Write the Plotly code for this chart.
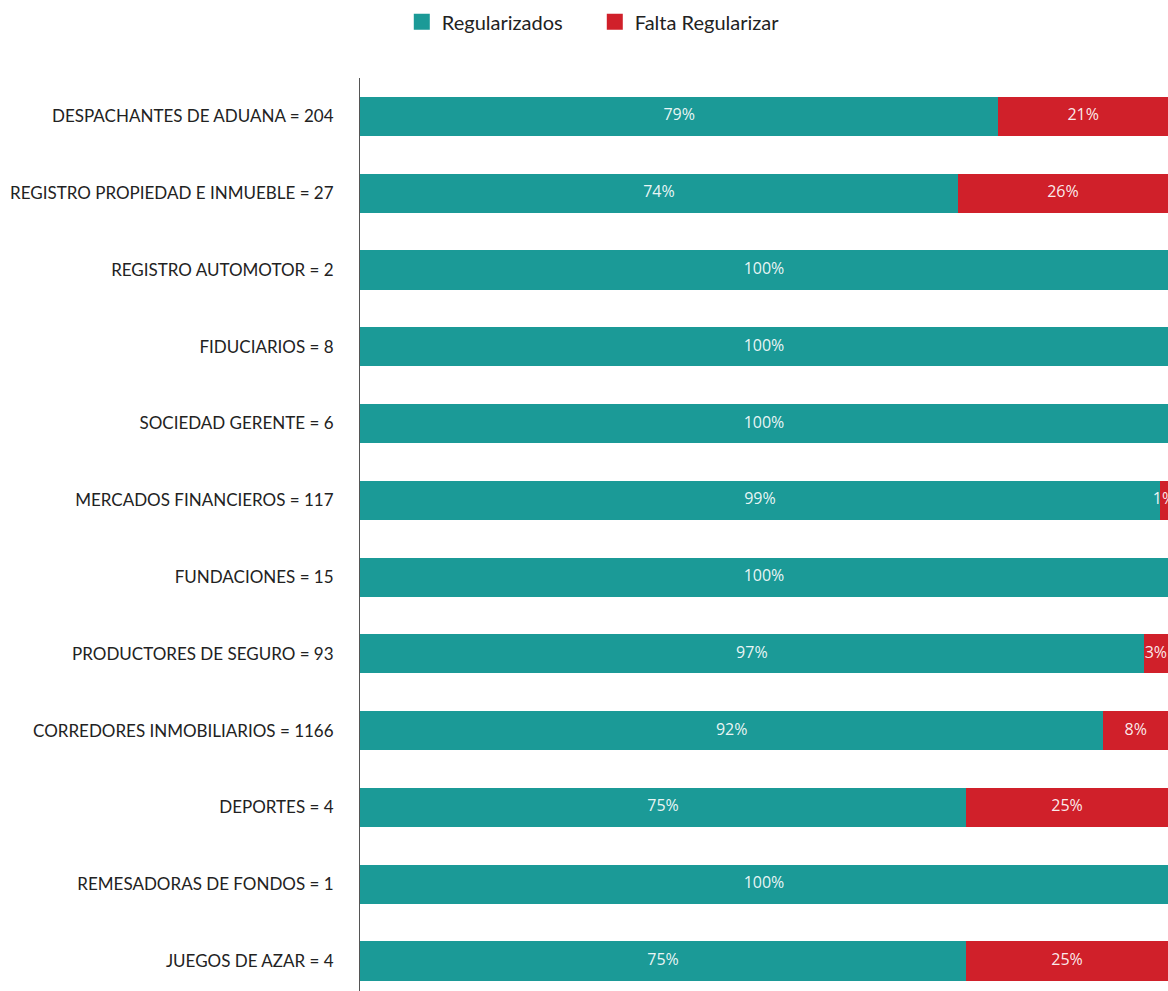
import plotly.graph_objects as go

# categories, top to bottom as in the chart
categorias = [
    "DESPACHANTES DE ADUANA = 204",
    "REGISTRO PROPIEDAD E INMUEBLE = 27",
    "REGISTRO AUTOMOTOR = 2",
    "FIDUCIARIOS = 8",
    "SOCIEDAD GERENTE = 6",
    "MERCADOS FINANCIEROS = 117",
    "FUNDACIONES = 15",
    "PRODUCTORES DE SEGURO = 93",
    "CORREDORES INMOBILIARIOS = 1166",
    "DEPORTES = 4",
    "REMESADORAS DE FONDOS = 1",
    "JUEGOS DE AZAR = 4",
]
regularizados = [79, 74, 100, 100, 100, 99, 100, 97, 92, 75, 100, 75]
falta = [21, 26, 0, 0, 0, 1, 0, 3, 8, 25, 0, 25]
series = ["Regularizados", "Falta Regularizar"]

TEAL = "#1b9a97"
RED = "#d0202a"

# plotly puts first category at the bottom, so flip
cats = categorias[::-1]
reg = regularizados[::-1]
fal = falta[::-1]

fig = go.Figure()
fig.add_trace(go.Bar(y=cats, x=reg, orientation="h", name=series[0],
                     marker=dict(color=TEAL, line_width=0), showlegend=False))
fig.add_trace(go.Bar(y=cats, x=fal, orientation="h", name=series[1],
                     marker=dict(color=RED, line_width=0), showlegend=False))

# percentage labels centred on each segment
lbl_font = dict(family="Open Sans", size=16, color="rgba(255,255,255,0.92)")
fig.add_trace(go.Scatter(
    y=cats, x=[r / 2 for r in reg], mode="text",
    text=[f"{r}%" for r in reg], textfont=lbl_font,
    showlegend=False, hoverinfo="skip", cliponaxis=True))
fig.add_trace(go.Scatter(
    y=[c for c, f in zip(cats, fal) if f > 0],
    x=[r + f / 2 for r, f in zip(reg, fal) if f > 0],
    mode="text",
    text=[f"{f}%" for f in fal if f > 0], textfont=lbl_font,
    showlegend=False, hoverinfo="skip", cliponaxis=True))

# legend entries with bigger square swatches
for name, col in zip(series, [TEAL, RED]):
    fig.add_trace(go.Scatter(x=[None], y=[None], mode="markers", name=name,
                             marker=dict(symbol="square", size=17, color=col)))

fig.update_layout(
    width=1168, height=991,
    barmode="stack", bargap=0.49,
    plot_bgcolor="white", paper_bgcolor="white",
    margin=dict(l=360, r=0, t=78, b=0),
    font=dict(family="Lato", color="#222"),
    legend=dict(orientation="h", xref="container", x=0.344, xanchor="left",
                yref="container", y=0.978, yanchor="middle",
                font=dict(size=20, color="#222"),
                traceorder="normal", itemwidth=30,
                entrywidth=148, entrywidthmode="pixels"),
    xaxis=dict(range=[0, 100], visible=False, fixedrange=True),
    yaxis=dict(type="category", categoryorder="array", categoryarray=cats,
               range=[-0.39, 11.5], showline=True, linecolor="#555",
               linewidth=1, showgrid=False, ticks="",
               ticklabelstandoff=22,
               tickfont=dict(size=17, color="#222", family="Lato")),
)

# drop the default body margin so the figure fills the window exactly
fig.write_html("out.html",
               config={"displayModeBar": False},
               post_script="document.body.style.margin='0';"
                           "document.body.style.overflow='hidden';")
